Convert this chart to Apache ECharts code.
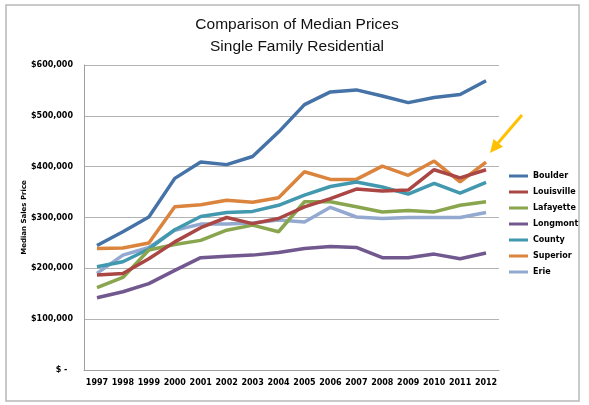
<!DOCTYPE html>
<html>
<head>
<meta charset="utf-8">
<script src="https://cdn.jsdelivr.net/npm/echarts@6/dist/echarts.min.js"></script>
<style>
html,body{margin:0;padding:0;background:#fff;}
#chart{width:589px;height:405px;}
</style>
</head>
<body>
<div id="chart"></div>
<script>
const years = ['1997','1998','1999','2000','2001','2002','2003','2004','2005','2006','2007','2008','2009','2010','2011','2012'];
const boulder    = [245000,272000,301000,377000,409000,404000,420000,468000,522000,547000,551000,539000,526000,536000,542000,569000];
const louisville = [187000,190000,219000,252000,280000,300000,288000,298000,321000,337000,356000,352000,354000,394000,378000,394000];
const lafayette  = [162000,182000,236000,247000,255000,275000,285000,272000,331000,331000,321000,311000,314000,311000,324000,331000];
const longmont   = [142000,154000,170000,196000,221000,224000,226000,231000,239000,243000,241000,221000,221000,228000,219000,230000];
const county     = [203000,213000,238000,276000,302000,310000,312000,324000,344000,361000,370000,360000,346000,367000,348000,369000];
const superior   = [239000,240000,250000,321000,325000,334000,330000,339000,390000,375000,375000,401000,383000,411000,370000,409000];
const erie       = [190000,226000,241000,275000,287000,287000,289000,295000,291000,320000,301000,298000,300000,300000,300000,310000];
const seriesNames = ['Boulder','Louisville','Lafayette','Longmont','County','Superior','Erie'];
const seriesData = [boulder,louisville,lafayette,longmont,county,superior,erie];
const colors = ['#4572A7','#AA4643','#89A54E','#71588F','#4198AF','#DB843D','#93A9CF'];

function fmt(v){
  if(v===0) return '$ -  ';
  return '$' + String(v).replace(/\B(?=(\d{3})+(?!\d))/g, ',');
}

const chart = echarts.init(document.getElementById('chart'));
chart.setOption({
  animation:false,
  color: colors,
  title:{
    text:'Comparison of Median Prices\nSingle Family Residential',
    left:292, top:9, textAlign:'center',
    textStyle:{fontFamily:'Liberation Sans', fontSize:15.5, fontWeight:'normal', color:'#111', lineHeight:22}
  },
  grid:{left:84, right:90, top:65, bottom:35},
  legend:{
    orient:'vertical', left:509, top:170, padding:0,
    icon:'rect', itemWidth:19, itemHeight:3, itemGap:4,
    textStyle:{fontFamily:'DejaVu Sans', fontSize:8, fontWeight:'bold', color:'#000', lineHeight:12},
    data: seriesNames
  },
  xAxis:{
    type:'category', data:years, boundaryGap:true,
    axisLine:{lineStyle:{color:'#a0a0a0', width:1}},
    axisTick:{show:false},
    axisLabel:{fontFamily:'DejaVu Sans', fontSize:8, fontWeight:'bold', color:'#000', margin:9, interval:0}
  },
  yAxis:{
    type:'value', min:0, max:600000, interval:100000,
    name:'Median Sales Price', nameLocation:'middle', nameRotate:90, nameGap:56,
    nameMoveOverlap:false,
    nameTextStyle:{fontFamily:'DejaVu Sans', fontSize:7, fontWeight:'bold', color:'#000'},
    axisLine:{show:true, lineStyle:{color:'#a0a0a0', width:1}},
    axisTick:{show:false},
    splitLine:{lineStyle:{color:'#b3b3b3', width:1}},
    axisLabel:{fontFamily:'DejaVu Sans', fontSize:8, fontWeight:'bold', color:'#000', margin:11, formatter:fmt}
  },
  series: seriesNames.map((n,i)=>({
    name:n, type:'line', data:seriesData[i], symbol:'none',
    lineStyle:{width:3.5, color:colors[i]}, z: 10 - i
  })),
  graphic:[
    {type:'rect', shape:{x:6, y:5, width:573, height:396}, style:{fill:'none', stroke:'#b8b8b8', lineWidth:1.5}, silent:true},
    {type:'line', shape:{x1:522, y1:115, x2:498, y2:143}, style:{stroke:'#FFC000', lineWidth:3}, silent:true},
    {type:'polygon', shape:{points:[[490,153],[503,146.7],[493.5,139]]}, style:{fill:'#FFC000'}, silent:true}
  ]
});
</script>
</body>
</html>
